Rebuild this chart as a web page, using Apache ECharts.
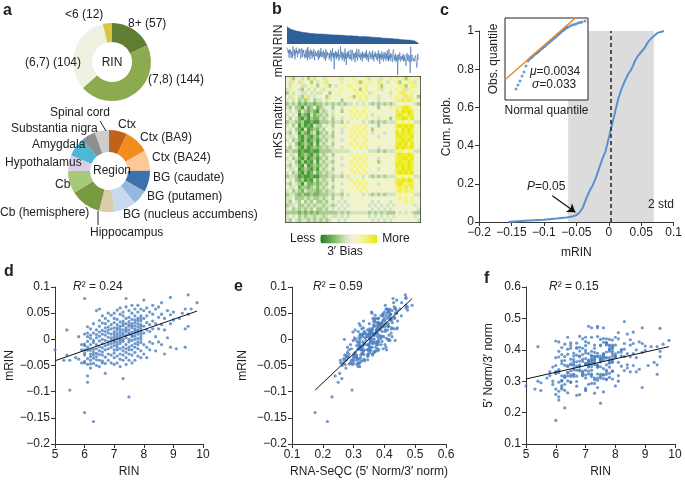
<!DOCTYPE html>
<html><head><meta charset="utf-8">
<script src="https://cdn.jsdelivr.net/npm/echarts@6/dist/echarts.min.js"></script>
<style>html,body{margin:0;padding:0;background:#fff}#c{width:685px;height:481px}</style>
</head><body><div id="c"></div><script>
// ---------- panel a ----------
const rinBinLabels = ['8+ (57)', '(7,8) (144)', '(6,7) (104)', '<6 (12)'];
const rinBinCounts = [57, 144, 104, 12];
const regionNames = ['Ctx', 'Ctx (BA9)', 'Ctx (BA24)', 'BG (caudate)', 'BG (putamen)', 'BG (nucleus accumbens)', 'Hippocampus', 'Cb (hemisphere)', 'Cb', 'Hypothalamus', 'Amygdala', 'Substantia nigra', 'Spinal cord'];
const regionCounts = [23, 31, 26, 27, 19, 28, 19, 39, 29, 20, 24, 18, 18];

// ---------- samples: [RIN, mRIN, 5'Norm/3'norm] ----------
const samplesRinBelow6 = [[5.0,-0.020,0.285],[5.3,-0.040,0.275],[5.4,0.018,0.410],[5.4,-0.030,0.300],[5.5,-0.097,0.295],[5.5,-0.040,0.270],[5.7,-0.035,0.310],[5.8,0.005,0.330],[5.9,-0.045,0.300],[5.9,-0.020,0.345],[5.9,-0.010,0.290],[5.8,-0.038,0.318]];
const samplesRin6to7 = [
[6.0,-0.140,0.175],[6.0,0.078,0.428],[6.0,-0.009,0.375],[6.0,-0.045,0.258],[6.0,-0.030,0.275],[6.0,0.010,0.350],[6.0,-0.012,0.330],[6.0,-0.042,0.325],[6.0,-0.026,0.330],[6.0,-0.020,0.325],
[6.1,-0.082,0.250],[6.1,-0.070,0.240],[6.1,0.024,0.395],[6.1,-0.004,0.377],[6.1,-0.037,0.268],[6.1,0.012,0.337],[6.1,-0.021,0.332],[6.1,-0.048,0.297],[6.1,-0.015,0.328],[6.1,0.005,0.425],
[6.2,-0.033,0.280],[6.2,0.002,0.407],[6.2,-0.028,0.303],[6.2,0.020,0.385],[6.2,-0.047,0.286],[6.2,-0.010,0.317],[6.2,-0.040,0.300],[6.2,0.008,0.365],[6.2,-0.021,0.356],[6.2,-0.055,0.275],
[6.3,-0.157,0.215],[6.3,-0.025,0.366],[6.3,0.012,0.351],[6.3,-0.036,0.312],[6.3,-0.006,0.378],[6.3,0.030,0.318],[6.3,-0.019,0.313],[6.3,-0.046,0.290],[6.3,-0.002,0.418],[6.3,-0.030,0.271],
[6.4,0.055,0.440],[6.4,-0.018,0.317],[6.4,-0.039,0.346],[6.4,0.003,0.350],[6.4,-0.027,0.327],[6.4,0.018,0.386],[6.4,-0.050,0.263],[6.4,-0.010,0.402],[6.4,-0.033,0.301],[6.4,0.009,0.328],
[6.5,0.058,0.405],[6.5,-0.022,0.370],[6.5,0.006,0.352],[6.5,-0.040,0.296],[6.5,0.025,0.414],[6.5,-0.014,0.320],[6.5,-0.029,0.333],[6.5,0.014,0.298],[6.5,-0.052,0.315],[6.5,-0.003,0.355],[6.5,0.036,0.422],
[6.6,0.010,0.341],[6.6,-0.024,0.369],[6.6,0.031,0.380],[6.6,-0.008,0.351],[6.6,-0.041,0.336],[6.6,0.017,0.355],[6.6,-0.016,0.322],[6.6,0.045,0.389],[6.6,-0.030,0.362],[6.6,0.000,0.321],[6.6,-0.045,0.315],
[6.7,-0.065,0.255],[6.7,0.022,0.362],[6.7,-0.012,0.348],[6.7,0.008,0.383],[6.7,-0.034,0.284],[6.7,0.040,0.421],[6.7,-0.002,0.299],[6.7,-0.020,0.407],[6.7,0.015,0.335],[6.7,-0.046,0.316],[6.7,0.030,0.405],
[6.8,0.035,0.443],[6.8,-0.010,0.336],[6.8,0.012,0.333],[6.8,-0.028,0.347],[6.8,0.004,0.351],[6.8,0.024,0.379],[6.8,-0.040,0.257],[6.8,-0.005,0.364],[6.8,0.050,0.408],[6.8,-0.018,0.396],[6.8,0.018,0.380],
[6.9,0.028,0.385],[6.9,-0.008,0.363],[6.9,0.010,0.332],[6.9,-0.030,0.323],[6.9,0.046,0.370],[6.9,-0.015,0.405],[6.9,0.003,0.317],[6.9,-0.045,0.320],[6.9,0.020,0.327],[6.9,-0.002,0.435]];
const samplesRin7to8 = [
[7.0,0.015,0.357],[7.0,-0.020,0.335],[7.0,0.032,0.426],[7.0,-0.006,0.320],[7.0,0.050,0.440],[7.0,-0.035,0.277],[7.0,0.005,0.398],[7.0,-0.012,0.310],[7.0,0.022,0.390],[7.0,-0.048,0.272],[7.0,0.010,0.355],[7.0,-0.002,0.413],[7.0,0.040,0.372],[7.0,-0.026,0.353],[7.0,0.000,0.270],
[7.1,0.056,0.475],[7.1,0.018,0.360],[7.1,-0.015,0.356],[7.1,0.007,0.367],[7.1,-0.032,0.347],[7.1,0.028,0.365],[7.1,-0.005,0.355],[7.1,0.012,0.362],[7.1,-0.045,0.290],[7.1,0.038,0.422],[7.1,-0.020,0.323],[7.1,0.002,0.388],[7.1,0.022,0.332],[7.1,-0.010,0.345],
[7.2,0.048,0.395],[7.2,0.010,0.372],[7.2,-0.028,0.347],[7.2,0.025,0.368],[7.2,-0.008,0.363],[7.2,0.015,0.315],[7.2,-0.052,0.320],[7.2,0.033,0.380],[7.2,0.000,0.382],[7.2,-0.018,0.293],[7.2,0.060,0.470],[7.2,0.005,0.323],[7.2,-0.038,0.335],[7.2,0.020,0.440],[7.2,-0.003,0.357],
[7.3,-0.075,0.262],[7.3,0.012,0.376],[7.3,0.035,0.369],[7.3,-0.015,0.360],[7.3,0.026,0.368],[7.3,-0.004,0.392],[7.3,0.045,0.405],[7.3,-0.030,0.310],[7.3,0.008,0.415],[7.3,0.018,0.305],[7.3,-0.022,0.377],[7.3,0.052,0.358],[7.3,0.000,0.353],[7.3,-0.040,0.293],[7.3,0.030,0.380],
[7.4,0.078,0.470],[7.4,0.015,0.351],[7.4,-0.010,0.389],[7.4,0.040,0.380],[7.4,-0.035,0.323],[7.4,0.022,0.442],[7.4,0.003,0.303],[7.4,-0.018,0.378],[7.4,0.030,0.351],[7.4,-0.048,0.310],[7.4,0.008,0.345],[7.4,0.062,0.475],[7.4,-0.025,0.280],[7.4,0.018,0.345],
[7.5,-0.110,0.230],[7.5,0.025,0.413],[7.5,-0.005,0.316],[7.5,0.042,0.433],[7.5,0.010,0.322],[7.5,-0.028,0.361],[7.5,0.034,0.365],[7.5,-0.015,0.372],[7.5,0.018,0.373],[7.5,0.000,0.367],[7.5,0.055,0.415],[7.5,-0.040,0.310],[7.5,0.012,0.370],[7.5,0.028,0.380],[7.5,-0.020,0.346],
[7.6,0.038,0.367],[7.6,0.005,0.378],[7.6,-0.030,0.308],[7.6,0.022,0.424],[7.6,-0.012,0.321],[7.6,0.050,0.436],[7.6,0.014,0.374],[7.6,-0.045,0.266],[7.6,0.030,0.387],[7.6,-0.002,0.340],[7.6,0.065,0.470],[7.6,0.008,0.320],[7.6,-0.020,0.382],[7.6,0.026,0.387],
[7.7,0.020,0.423],[7.7,-0.008,0.335],[7.7,0.045,0.415],[7.7,0.012,0.422],[7.7,-0.025,0.305],[7.7,0.032,0.374],[7.7,0.000,0.307],[7.7,-0.040,0.330],[7.7,0.058,0.435],[7.7,0.016,0.375],[7.7,-0.015,0.352],[7.7,0.037,0.420],[7.7,0.006,0.393],[7.7,0.026,0.322],
[7.8,0.024,0.400],[7.8,-0.005,0.312],[7.8,0.040,0.433],[7.8,0.010,0.367],[7.8,-0.032,0.345],[7.8,0.052,0.415],[7.8,0.018,0.403],[7.8,-0.018,0.325],[7.8,0.030,0.413],[7.8,0.002,0.360],[7.8,0.065,0.403],[7.8,-0.010,0.375],[7.8,0.015,0.357],[7.8,0.036,0.395],
[7.9,0.028,0.380],[7.9,0.005,0.388],[7.9,0.045,0.395],[7.9,-0.022,0.332],[7.9,0.015,0.403],[7.9,0.035,0.332],[7.9,-0.006,0.370],[7.9,0.058,0.408],[7.9,0.020,0.431],[7.9,-0.035,0.307],[7.9,0.010,0.360],[7.9,0.040,0.363],[7.9,0.000,0.415],[7.9,0.025,0.410]];
const samplesRin8plus = [
[8.0,0.075,0.440],[8.0,0.025,0.387],[8.0,-0.010,0.380],[8.0,0.040,0.380],[8.0,0.012,0.376],[8.0,-0.028,0.285],[8.0,0.055,0.415],
[8.1,0.018,0.360],[8.1,0.045,0.455],[8.1,-0.015,0.318],[8.1,0.032,0.392],[8.1,0.060,0.435],[8.1,-0.035,0.300],
[8.2,0.028,0.400],[8.2,0.052,0.400],[8.2,-0.005,0.381],[8.2,0.015,0.393],[8.2,-0.020,0.348],
[8.3,0.020,0.378],[8.3,0.065,0.490],[8.3,0.035,0.402],[8.3,-0.008,0.334],[8.3,0.048,0.420],
[8.4,0.030,0.388],[8.4,0.058,0.450],[8.4,0.005,0.342],[8.4,-0.022,0.352],
[8.5,-0.005,0.330],[8.5,0.042,0.415],[8.5,0.020,0.378],[8.5,0.062,0.432],
[8.6,0.070,0.456],[8.6,0.028,0.388],[8.6,0.048,0.420],[8.6,-0.010,0.350],
[8.7,-0.028,0.330],[8.7,0.040,0.400],[8.7,0.018,0.375],
[8.8,0.003,0.338],[8.8,0.055,0.425],
[8.9,-0.015,0.280],[8.9,0.080,0.470],[8.9,0.047,0.420],[8.9,0.030,0.392],
[9.0,0.037,0.398],[9.0,0.052,0.412],[9.1,-0.018,0.350],[9.2,0.040,0.410],[9.3,0.050,0.360],
[9.4,-0.015,0.322],[9.4,0.058,0.410],[9.4,0.020,0.352],
[9.5,0.085,0.468],[9.5,0.025,0.378],[9.5,0.048,0.395],[9.6,0.058,0.418],[9.8,0.070,0.430]];

// ---------- panel b: mKS matrix (0 = less 3' bias ... 9 = more) ----------
const mksRows = [
"5736 5463746 64756 57465 676567 465746 675 767376 57",
"6475 4756364 57465 65756 567376 756475 465 736677 46",
"5456 6445753 65736 46567 756767 565736 656 677367 75",
"4765 4364545 74565 65756 676367 656745 575 767476 65",
"3645 5445474 45636 57565 667676 475656 646 678767 56",
"5476 4374545 56375 65656 736767 656465 575 767477 63",
"4545 3434634 45456 56365 566767 565456 556 778787 56",
"3434 2323323 34343 43434 454545 434343 434 565656 43",
"4353 3142352 34553 55465 676567 565356 575 778986 65",
"5454 2432321 43454 56365 767676 656565 656 879898 56",
"4545 1321423 34364 55656 676767 545656 565 898798 65",
"5354 2131322 43453 56465 767657 656465 636 889979 56",
"3443 2311211 33343 44354 555545 434343 444 767676 44",
"4535 1312143 35453 56575 676767 565356 565 898989 65",
"5453 2141232 43564 65456 767676 636565 656 879898 56",
"4354 1321341 34353 55465 676767 545654 565 989898 65",
"5445 2132132 43443 56556 767676 656465 656 898889 56",
"4534 2131231 34354 55465 676567 565656 565 889898 65",
"5453 1232141 43453 65556 767676 656565 656 898979 56",
"4354 2131232 34344 56465 676767 565456 565 989889 65",
"3433 1211211 33334 44444 555555 444343 444 777676 44",
"5445 1232132 43453 56565 767676 656565 656 898898 56",
"4534 2131231 34354 55465 676767 565456 565 889989 65",
"5453 1312141 43443 65556 767676 656365 656 898898 56",
"4354 2141232 34354 56465 676767 565656 565 989898 65",
"5445 1232131 43453 55556 767676 656465 656 889898 56",
"4534 2131242 34344 56465 676767 565656 565 898989 65",
"3443 1211211 33343 44354 555545 434343 444 767676 44",
"5453 2312142 43453 65556 767676 656565 656 889898 56",
"4354 3142232 34354 56465 676767 565456 565 898788 65",
"5445 2332342 43453 55556 667676 656565 656 787878 56",
"4534 3243332 34344 56465 666767 565656 565 787877 65",
"3443 2322322 33343 44354 555545 434343 444 666666 44",
"4453 3343433 43453 55456 566656 556565 556 676767 56",
"4354 3534353 34354 54545 565656 545456 545 666767 55",
"3445 3343434 43443 45454 556565 454545 454 565656 45",
"4534 3434353 34354 54545 565656 545454 545 656565 54",
"3333 2323232 33333 34343 444444 343434 333 545454 33",
"4545 3434434 43454 45454 565656 454545 454 565656 45",
"4354 3443434 34345 54545 556565 545454 545 656565 54"];

// ---------- panel c ----------
const cdfMRIN = [-0.155,-0.13,-0.1,-0.08,-0.065,-0.055,-0.05,-0.045,-0.04,-0.035,-0.03,-0.025,-0.02,-0.015,-0.01,-0.005,0,0.005,0.01,0.015,0.02,0.025,0.03,0.035,0.04,0.045,0.05,0.055,0.06,0.065,0.07,0.075,0.08,0.085];
const cdfProb = [0,0.006,0.012,0.018,0.024,0.03,0.036,0.05,0.075,0.12,0.16,0.19,0.23,0.28,0.33,0.37,0.44,0.51,0.58,0.65,0.7,0.74,0.775,0.8,0.84,0.87,0.89,0.91,0.94,0.96,0.975,0.99,0.995,1.0];
const mrinMu = 0.0034, mrinSigma = 0.033;
const pArrowFrom = [-0.087, 0.138], pArrowTo = [-0.0515, 0.051];
const qqNormal = [-2.072,-1.904,-1.735,-1.566,-1.398,-1.229,-1.060,-0.976,-0.892,-0.807,-0.723,-0.638,-0.554,-0.470,-0.385,-0.301,-0.217,-0.132,-0.048,0.036,0.121,0.205,0.289,0.374,0.458,0.542,0.627,0.711,0.795,0.880,0.964,1.048,1.133,1.217,1.301,1.386,1.470,1.554,1.639,1.723,1.807,1.892,1.976,2.060,2.145,2.229,2.313,2.482,2.651,2.819,2.988,3.157,3.326,3.494,3.747];
const qqObserved = [-0.125,-0.1125,-0.0998,-0.0839,-0.0712,-0.0522,-0.0364,-0.0316,-0.0284,-0.0253,-0.0237,-0.0205,-0.0173,-0.0142,-0.0126,-0.0094,-0.0078,-0.0046,-0.0015,0.0017,0.0033,0.0065,0.0096,0.0112,0.0144,0.0176,0.0207,0.0223,0.0255,0.0287,0.0302,0.0334,0.0366,0.0382,0.0413,0.0445,0.0477,0.0493,0.0524,0.0556,0.0588,0.0604,0.0635,0.0651,0.0683,0.0699,0.0715,0.0746,0.0778,0.0794,0.0810,0.0841,0.0857,0.0873,0.0905];
const qqFitLine = [[-3, -0.0956], [2.99, 0.1021]];

// ---------- panels d, e, f ----------
const regD = [[5, -0.041], [9.8, 0.054]];
const regE = [[0.175, -0.097], [0.49, 0.078]];
const regF = [[5, 0.307], [9.8, 0.41]];
const r2Values = ['0.24', '0.59', '0.15'];

// =====================================================================
const FONT = '"Liberation Sans", Arial, Helvetica, sans-serif';
const TXT = '#222';
const AX = '#333';
const BLUE = '#4b7fc1';
const fmtNum = v => String(Math.round(v * 1000) / 1000).replace('-', '\u2212');

const samples = [].concat(samplesRinBelow6, samplesRin6to7, samplesRin7to8, samplesRin8plus);
const sorted = samples.map((s, i) => [s, i]).sort((a, b) => (b[0][0] - a[0][0]) || (a[1] - b[1])).map(p => p[0]);
const idx = sorted.map((s, i) => i);

const mksClean = mksRows.map(r => r.replace(/ /g, ''));
const nCols = mksClean[0].length;
const heatData = [];
mksClean.forEach((row, r) => { for (let c = 0; c < nCols; c++) heatData.push([c, r, +row[c]]); });

function axis(gridIndex, min, max, interval, name, nameGap, extra) {
  return Object.assign({
    type: 'value', gridIndex, min, max, interval, name, nameLocation: 'middle', nameGap,
    nameTextStyle: { fontFamily: FONT, fontSize: 12, color: TXT },
    axisLine: { show: true, onZero: false, lineStyle: { color: AX, width: 1 } },
    axisTick: { show: true, length: 4, lineStyle: { color: AX } },
    axisLabel: { fontFamily: FONT, fontSize: 12, color: TXT, margin: 5, formatter: fmtNum },
    splitLine: { show: false }
  }, extra || {});
}
function hiddenAxis(type, gridIndex, extra) {
  return Object.assign({
    type, gridIndex, axisLine: { show: false }, axisTick: { show: false },
    axisLabel: { show: false }, splitLine: { show: false },
    nameTextStyle: { fontFamily: FONT, fontSize: 12, color: TXT }
  }, extra || {});
}

const rinColors = ['#5f7d33', '#8cab50', '#edf2e1', '#d8c63f'];
const regionColors = ['#c0621a', '#f28c1e', '#fdc796', '#3b71ae', '#94b7de', '#c7d9ef', '#d9cda9', '#789a40', '#a7c878', '#d9cee7', '#4eb8d4', '#8e8e8e', '#cdcdcd'];

const texts = [];
function T(text, x, y, opt) {
  opt = opt || {};
  texts.push({
    type: 'text', x, y, rotation: opt.rot || 0, zlevel: 2, silent: true,
    style: {
      text, fill: TXT, fontFamily: FONT, fontSize: opt.size || 12, fontWeight: opt.bold ? 'bold' : 'normal',
      textAlign: opt.align || 'left', textVerticalAlign: 'middle',
      rich: { i: { fontStyle: 'italic', fontFamily: FONT, fontSize: opt.size || 12, fill: TXT } }
    }
  });
}
// panel letters
T('a', 3, 11, { bold: true, size: 16 });
T('b', 272, 10, { bold: true, size: 16 });
T('c', 440, 11, { bold: true, size: 16 });
T('d', 4, 272, { bold: true, size: 16 });
T('e', 234, 287, { bold: true, size: 16 });
T('f', 484, 279, { bold: true, size: 16 });
// panel a labels
T(rinBinLabels[3], 65, 15); T(rinBinLabels[0], 128, 24); T(rinBinLabels[2], 25, 63); T(rinBinLabels[1], 148, 80);
T('RIN', 112, 63, { align: 'center' });
T('Region', 112, 171, { align: 'center' });
const regionLabelPos = {
  'Spinal cord': [50, 113], 'Substantia nigra': [11, 129], 'Ctx': [118, 125], 'Ctx (BA9)': [140, 138],
  'Amygdala': [32, 145], 'Hypothalamus': [5, 163], 'Ctx (BA24)': [152, 158], 'BG (caudate)': [153, 178],
  'Cb': [55, 185], 'BG (putamen)': [147, 197], 'Cb (hemisphere)': [0, 213], 'BG (nucleus accumbens)': [123, 215],
  'Hippocampus': [90, 233]
};
regionNames.forEach(n => T(n, regionLabelPos[n][0], regionLabelPos[n][1]));
// panel b labels
T('mKS matrix', 279, 127, { align: 'center', rot: Math.PI / 2 });
T('3\u2032 Bias', 345, 252, { align: 'center' });
// panel c labels
T('{i|\u03bc}=0.0034', 530, 72, { size: 12 });
T('{i|\u03c3}=0.033', 532, 85, { size: 12 });
T('{i|P}=0.05', 527, 187);
T('2 std', 648, 205);
// R^2
T('{i|R}\u00b2 = ' + r2Values[0], 73, 287);
T('{i|R}\u00b2 = ' + r2Values[1], 313, 287);
T('{i|R}\u00b2 = ' + r2Values[2], 549, 287);
const leaders = [
  { type: 'line', zlevel: 2, silent: true, shape: { x1: 100, y1: 121, x2: 106, y2: 131 }, style: { stroke: '#222', lineWidth: 1 } },
  { type: 'line', zlevel: 2, silent: true, shape: { x1: 98, y1: 211, x2: 98, y2: 225 }, style: { stroke: '#222', lineWidth: 1 } }
];

const scatterStyle = { color: BLUE };
const option = {
  animation: false,
  backgroundColor: '#fff',
  textStyle: { fontFamily: FONT },
  grid: [
    { left: 287, top: 26, width: 132, height: 18 },
    { left: 287, top: 44, width: 132, height: 36 },
    { left: 286, top: 77, width: 134, height: 145, show: true, borderColor: '#333', borderWidth: 2, backgroundColor: 'transparent' },
    { left: 479, top: 31, width: 197, height: 191 },
    { left: 505, top: 18, width: 83, height: 82, show: true, borderColor: '#222', borderWidth: 1, backgroundColor: '#fff', zlevel: 1 },
    { left: 55, top: 287, width: 148, height: 157 },
    { left: 292, top: 287, width: 154, height: 157 },
    { left: 526, top: 287, width: 149, height: 157 }
  ],
  xAxis: [
    hiddenAxis('category', 0, { data: idx, boundaryGap: false }),
    hiddenAxis('category', 1, { data: idx, boundaryGap: false }),
    hiddenAxis('category', 2, { data: mksClean[0].split('').map((d, i) => i) }),
    axis(3, -0.2, 0.1, 0.05, 'mRIN', 25),
    hiddenAxis('value', 4, { min: -3, max: 4, name: 'Normal quantile', nameLocation: 'middle', nameGap: 5, zlevel: 1 }),
    axis(5, 5, 10, 1, 'RIN', 22),
    axis(6, 0.1, 0.6, 0.1, 'RNA-SeQC (5\u2032 Norm/3\u2032 norm)', 22),
    axis(7, 5, 10, 1, 'RIN', 22)
  ],
  yAxis: [
    hiddenAxis('value', 0, { min: 5, max: 10, name: 'RIN', nameLocation: 'middle', nameGap: 2 }),
    hiddenAxis('value', 1, { min: -0.2, max: 0.1, name: 'mRIN', nameLocation: 'middle', nameGap: 2 }),
    hiddenAxis('category', 2, { data: mksClean.map((r, i) => i), inverse: true }),
    axis(3, 0, 1, 0.2, 'Cum. prob.', 26),
    hiddenAxis('value', 4, { min: -0.16, max: 0.1, name: 'Obs. quantile', nameLocation: 'middle', nameGap: 5, zlevel: 1 }),
    axis(5, -0.2, 0.1, 0.05, 'mRIN', 38),
    axis(6, -0.2, 0.1, 0.05, 'mRIN', 43),
    axis(7, 0.1, 0.6, 0.1, '5\u2032 Norm/3\u2032 norm', 31)
  ],
  visualMap: {
    type: 'continuous', seriesIndex: 4, min: 0, max: 9, orient: 'horizontal',
    left: 275, top: 218, itemWidth: 9, itemHeight: 57, text: ['More', 'Less'], textGap: 5,
    calculable: false, realtime: false, hoverLink: false,
    textStyle: { fontFamily: FONT, fontSize: 12, color: TXT },
    inRange: { color: ['#1f7a1f', '#4a9a3a', '#79b45e', '#a9cd8c', '#d3e4bd', '#edf2da', '#f4f4bc', '#f3f382', '#eeee40', '#e8e800'] }
  },
  graphic: { elements: texts.concat(leaders) },
  series: [
    { type: 'pie', center: [112, 62], radius: [20, 39], startAngle: 90, clockwise: true, silent: true, label: { show: false }, labelLine: { show: false },
      data: rinBinCounts.map((v, i) => ({ name: rinBinLabels[i], value: v, itemStyle: { color: rinColors[i] } })) },
    { type: 'pie', center: [109, 171], radius: [19, 41], startAngle: 90, clockwise: true, silent: true, label: { show: false }, labelLine: { show: false },
      data: regionCounts.map((v, i) => ({ name: regionNames[i], value: v, itemStyle: { color: regionColors[i] } })) },
    { type: 'line', xAxisIndex: 0, yAxisIndex: 0, data: sorted.map(s => s[0]), symbol: 'none', silent: true,
      lineStyle: { width: 0.5, color: '#2d5f99' }, areaStyle: { color: '#2d5f99', opacity: 1, origin: 'start' } },
    { type: 'line', xAxisIndex: 1, yAxisIndex: 1, data: sorted.map(s => s[1]), symbol: 'none', silent: true,
      lineStyle: { width: 0.6, color: '#3c6eac' } },
    { type: 'heatmap', xAxisIndex: 2, yAxisIndex: 2, data: heatData, silent: true, progressive: 0 },
    { type: 'line', xAxisIndex: 3, yAxisIndex: 3, data: cdfMRIN.map((x, i) => [x, cdfProb[i]]), symbol: 'none', silent: true, clip: false, z: 3,
      lineStyle: { width: 2, color: '#5b8fd0' },
      markArea: { silent: true, itemStyle: { color: '#dcdcdc' },
        data: [[{ coord: [mrinMu - 2 * mrinSigma, 0] }, { coord: [mrinMu + 2 * mrinSigma, 1.04] }]] },
      markLine: { silent: true, symbol: ['none', 'none'], label: { show: false },
        data: [
          [{ coord: [mrinMu, 0], lineStyle: { type: [4, 3], color: '#222', width: 1.5 } }, { coord: [mrinMu, 1] }],
          [{ coord: pArrowFrom, symbol: 'none', lineStyle: { type: 'solid', color: '#111', width: 1.2 } }, { coord: pArrowTo, symbol: 'arrow', symbolSize: 8 }]
        ] } },
    { type: 'line', xAxisIndex: 4, yAxisIndex: 4, zlevel: 1, data: qqFitLine, symbol: 'none', silent: true,
      lineStyle: { width: 1.5, color: '#f0892a' } },
    { type: 'scatter', xAxisIndex: 4, yAxisIndex: 4, zlevel: 1, data: qqNormal.map((q, i) => [q, qqObserved[i]]), symbolSize: 3, silent: true,
      itemStyle: { color: '#4a86c8' } },
    { type: 'scatter', xAxisIndex: 5, yAxisIndex: 5, data: samples.map(s => [s[0], s[1]]), symbolSize: 3.2, silent: true, itemStyle: scatterStyle },
    { type: 'line', xAxisIndex: 5, yAxisIndex: 5, data: regD, symbol: 'none', silent: true, lineStyle: { width: 1, color: '#111' } },
    { type: 'scatter', xAxisIndex: 6, yAxisIndex: 6, data: samples.map(s => [s[2], s[1]]), symbolSize: 3.2, silent: true, itemStyle: scatterStyle },
    { type: 'line', xAxisIndex: 6, yAxisIndex: 6, data: regE, symbol: 'none', silent: true, lineStyle: { width: 1, color: '#111' } },
    { type: 'scatter', xAxisIndex: 7, yAxisIndex: 7, data: samples.map(s => [s[0], s[2]]), symbolSize: 3.2, silent: true, itemStyle: scatterStyle },
    { type: 'line', xAxisIndex: 7, yAxisIndex: 7, data: regF, symbol: 'none', silent: true, lineStyle: { width: 1, color: '#111' } }
  ]
};
const chart = echarts.init(document.getElementById('c'), null, { renderer: 'canvas' });
chart.setOption(option);
</script></body></html>
